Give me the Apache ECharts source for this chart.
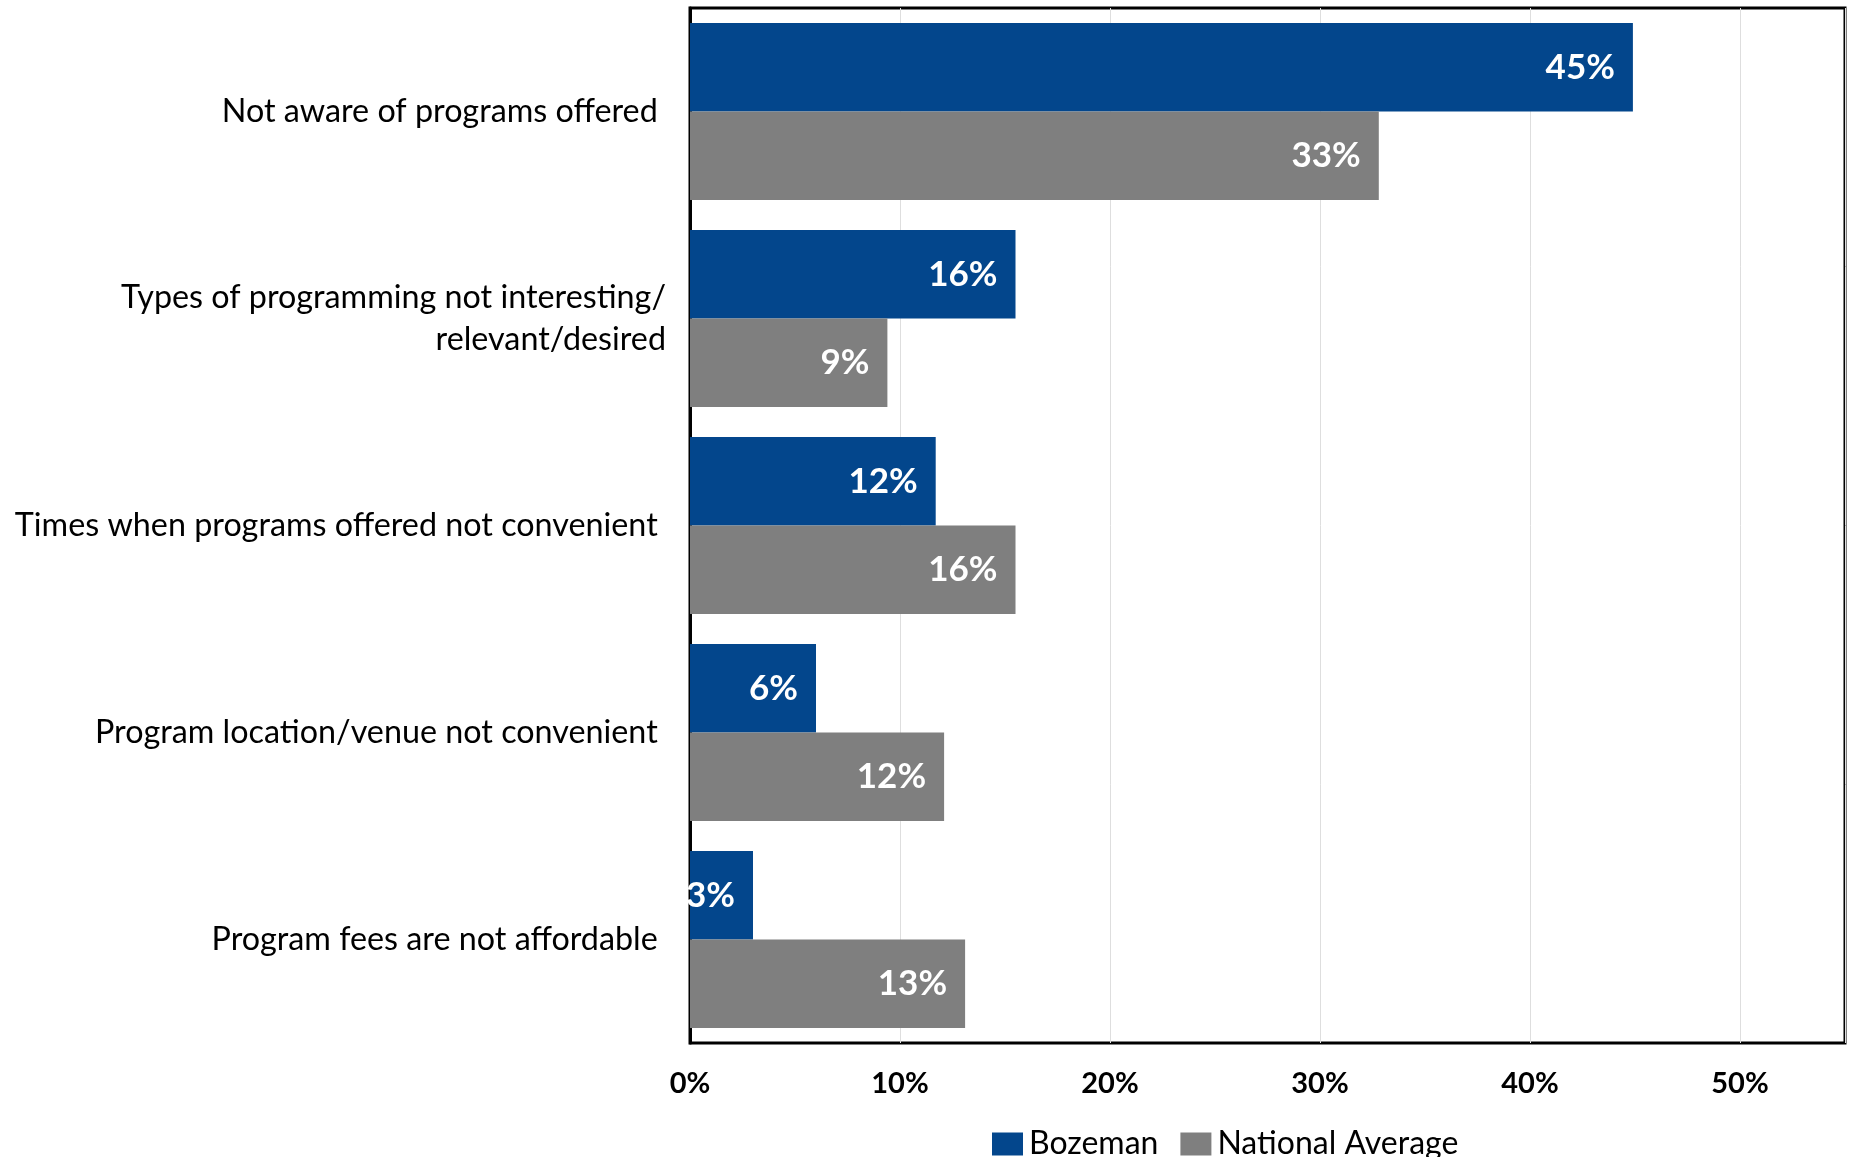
<!DOCTYPE html>
<html>
<head>
<meta charset="utf-8">
<script src="https://cdn.jsdelivr.net/npm/echarts@6/dist/echarts.min.js"></script>
<style>
html,body{margin:0;padding:0;background:#fff;}
#chart{width:1849px;height:1157px;}
</style>
</head>
<body>
<div id="chart"></div>
<script>
const categories = [
  "Not aware of programs offered ",
  "Types of programming not interesting/\nrelevant/desired",
  "Times when programs offered not convenient ",
  "Program location/venue not convenient ",
  "Program fees are not affordable "
];
const bozeman = [44.9, 15.5, 11.7, 6.0, 3.0];
const nationalAverage = [32.8, 9.4, 15.5, 12.1, 13.1];
const seriesNames = ["Bozeman", "National Average"];
const xTicks = { min: 0, max: 55, interval: 10 };

const FONT = "Lato, 'Open Sans', sans-serif";
const chart = echarts.init(document.getElementById('chart'));

const labelStyle = {
  show: true,
  position: 'insideRight',
  distance: 18,
  color: '#fff',
  fontFamily: FONT,
  fontWeight: 'bold',
  fontSize: 35,
  formatter: p => Math.round(p.value) + '%'
};

chart.setOption({
  animation: false,
  backgroundColor: '#fff',
  grid: {
    left: 690, right: 4, top: 8, bottom: 114,
    show: true, borderColor: '#000', borderWidth: 3, backgroundColor: 'transparent'
  },
  legend: {
    left: 987, top: 1123,
    itemWidth: 31, itemHeight: 23, itemGap: 22,
    icon: 'rect',
    textStyle: { fontFamily: FONT, fontSize: 32, color: '#000', padding: [0, 0, 0, 1] },
    data: seriesNames
  },
  xAxis: {
    type: 'value',
    min: xTicks.min, max: xTicks.max, interval: xTicks.interval,
    axisLine: { show: false },
    axisTick: { show: false },
    splitLine: { show: true, lineStyle: { color: '#dedede', width: 1 } },
    axisLabel: {
      showMaxLabel: false,
      margin: 26,
      color: '#000', fontFamily: FONT, fontWeight: 'bold', fontSize: 29,
      formatter: v => v + '%'
    }
  },
  yAxis: {
    type: 'category',
    inverse: true,
    data: categories,
    axisLine: { show: true, lineStyle: { color: '#000', width: 3 } },
    axisTick: { show: false },
    axisLabel: {
      margin: 24,
      color: '#000', fontFamily: FONT, fontSize: 32.3, lineHeight: 42,
      align: 'right'
    }
  },
  series: [
    {
      name: seriesNames[0], type: 'bar', data: bozeman,
      barGap: '0%', barCategoryGap: '14.5%',
      itemStyle: { color: '#03468C' },
      label: labelStyle
    },
    {
      name: seriesNames[1], type: 'bar', data: nationalAverage,
      barGap: '0%', barCategoryGap: '14.5%',
      itemStyle: { color: '#7F7F7F' },
      label: labelStyle
    }
  ]
});
</script>
</body>
</html>
